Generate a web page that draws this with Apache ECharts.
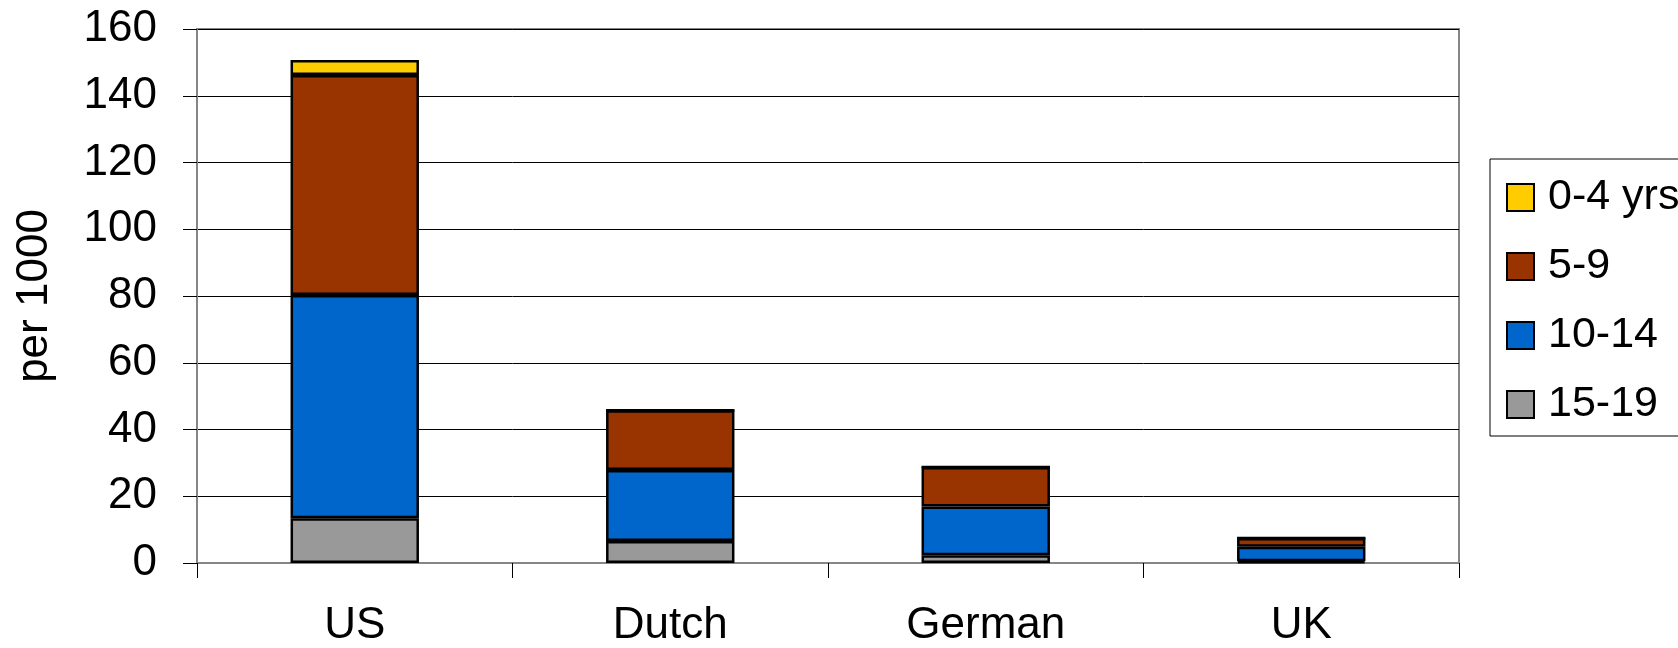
<!DOCTYPE html>
<html>
<head>
<meta charset="utf-8">
<script src="https://cdn.jsdelivr.net/npm/echarts@6/dist/echarts.min.js"></script>
<style>
html,body{margin:0;padding:0;background:#fff;}
#chart{width:1678px;height:648px;}
</style>
</head>
<body>
<div id="chart"></div>
<script>
const categories = ['US', 'Dutch', 'German', 'UK'];
const seriesNames = ['0-4 yrs', '5-9', '10-14', '15-19'];
const age15_19 = [13.4, 6.6, 2.3, 0.5];
const age10_14 = [66.9, 21.3, 14.6, 4.4];
const age5_9 = [65.9, 17.9, 11.9, 2.6];
const age0_4 = [4.5, 0, 0, 0];
const yTicks = [0, 20, 40, 60, 80, 100, 120, 140, 160];

const FONT = 'Liberation Sans, Arial, sans-serif';
const FS = 44;
const colors = {'0-4 yrs': '#FFCC00', '5-9': '#993300', '10-14': '#0066CC', '15-19': '#999999'};

function mk(name, data) {
  return {
    name: name, type: 'bar', stack: 'total', data: data,
    barWidth: '40.7%',
    itemStyle: {color: colors[name], borderColor: '#000', borderWidth: 2.5},
    emphasis: {disabled: true}
  };
}

const chart = echarts.init(document.getElementById('chart'), null, {renderer: 'canvas'});
chart.setOption({
  animation: false,
  backgroundColor: '#fff',
  grid: {left: 197, right: 219, top: 29, bottom: 84, show: true, borderColor: '#868686', borderWidth: 2, backgroundColor: '#fff'},
  legend: {
    orient: 'vertical', left: 1490, top: 159,
    data: seriesNames,
    icon: 'rect',
    itemWidth: 27, itemHeight: 27, itemGap: 26,
    padding: [17, 60, 10, 16],
    borderColor: '#000', borderWidth: 1,
    textStyle: {fontFamily: FONT, fontSize: 43, color: '#000', lineHeight: 42, padding: [0, 0, 0, 9]},
    itemStyle: {borderColor: '#000', borderWidth: 2},
    selectedMode: false
  },
  xAxis: {
    type: 'category', data: categories,
    axisLine: {show: true, lineStyle: {color: '#868686', width: 2}},
    axisTick: {show: true, length: 15, lineStyle: {color: '#000', width: 1}},
    axisLabel: {fontFamily: FONT, fontSize: FS, color: '#000', margin: 41}
  },
  yAxis: {
    type: 'value', min: yTicks[0], max: yTicks[yTicks.length - 1], interval: 20,
    name: 'per 1000', nameLocation: 'middle', nameRotate: 90, nameGap: 140,
    nameTextStyle: {fontFamily: FONT, fontSize: FS, color: '#000'},
    axisLine: {show: true, lineStyle: {color: '#868686', width: 2}},
    axisTick: {show: true, length: 14, lineStyle: {color: '#000', width: 1}},
    axisLabel: {fontFamily: FONT, fontSize: FS, color: '#000', margin: 40},
    splitLine: {show: true, lineStyle: {color: '#000', width: 1}}
  },
  series: [
    mk('15-19', age15_19),
    mk('10-14', age10_14),
    mk('5-9', age5_9),
    mk('0-4 yrs', age0_4)
  ]
});
</script>
</body>
</html>
